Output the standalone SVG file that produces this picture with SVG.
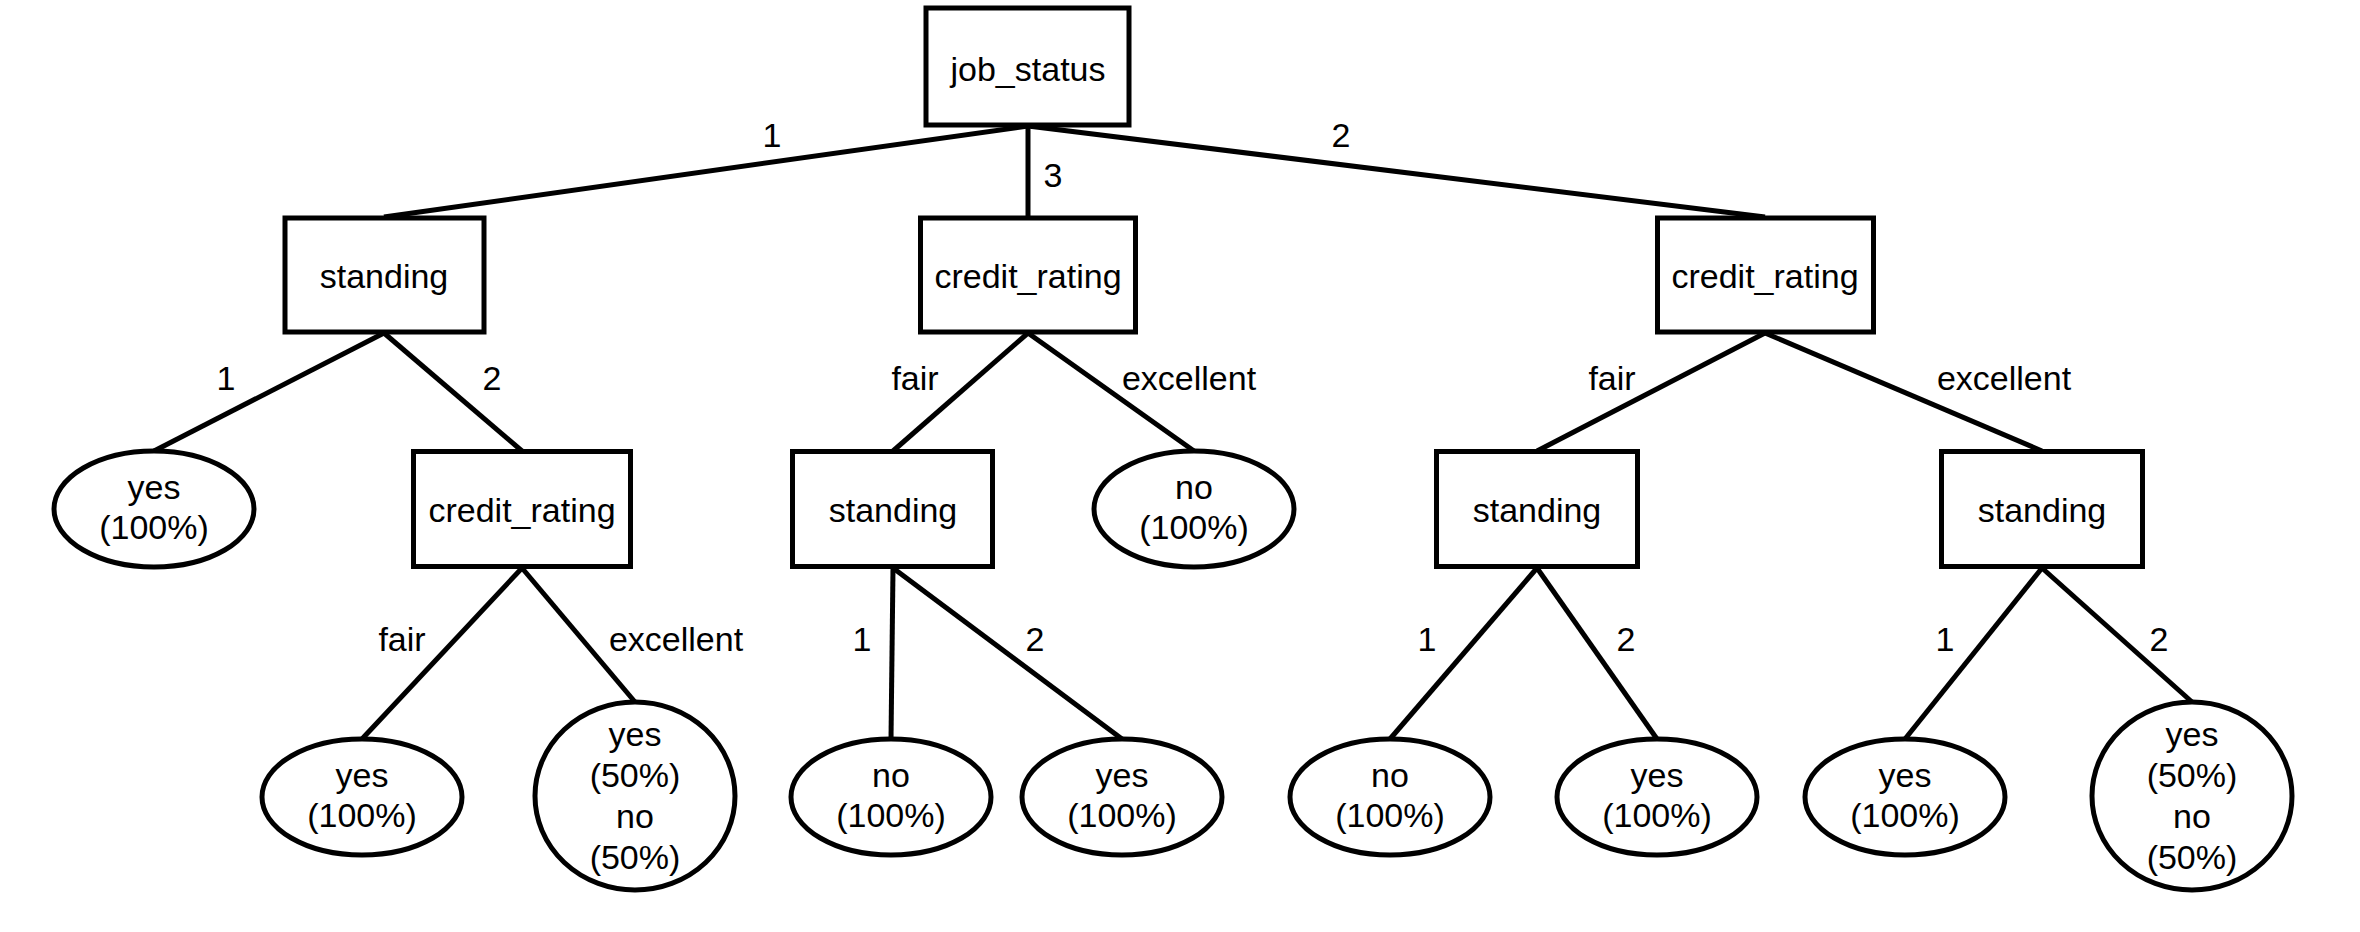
<svg xmlns="http://www.w3.org/2000/svg" width="2360" height="932" viewBox="0 0 2360 932">
  <style>
    .box { fill: #ffffff; stroke: #000000; stroke-width: 5; }
    .leaf { fill: #ffffff; stroke: #000000; stroke-width: 5; }
    .edge { stroke: #000000; stroke-width: 5; fill: none; }
    text { font-family: "Liberation Sans", Arial, sans-serif; font-size: 34px; fill: #000000; text-anchor: middle; }
  </style>
  <rect width="2360" height="932" fill="#ffffff"/>

  <!-- branches -->
  <g id="connectors">
    <line class="edge" x1="1028" y1="126" x2="384" y2="217"/>
    <line class="edge" x1="1028" y1="126" x2="1028" y2="217"/>
    <line class="edge" x1="1028" y1="126" x2="1765" y2="217"/>
    <line class="edge" x1="384" y1="333" x2="154" y2="451"/>
    <line class="edge" x1="384" y1="333" x2="522" y2="451"/>
    <line class="edge" x1="1028" y1="333" x2="893" y2="451"/>
    <line class="edge" x1="1028" y1="333" x2="1194" y2="451"/>
    <line class="edge" x1="1765" y1="333" x2="1537" y2="451"/>
    <line class="edge" x1="1765" y1="333" x2="2042" y2="451"/>
    <line class="edge" x1="522" y1="568" x2="362" y2="739"/>
    <line class="edge" x1="522" y1="568" x2="635" y2="702"/>
    <line class="edge" x1="893" y1="568" x2="891" y2="739"/>
    <line class="edge" x1="893" y1="568" x2="1122" y2="739"/>
    <line class="edge" x1="1537" y1="568" x2="1390" y2="739"/>
    <line class="edge" x1="1537" y1="568" x2="1657" y2="739"/>
    <line class="edge" x1="2042" y1="568" x2="1905" y2="739"/>
    <line class="edge" x1="2042" y1="568" x2="2192" y2="702"/>

    <text x="772" y="147">1</text>
    <text x="1053" y="187">3</text>
    <text x="1341" y="147">2</text>
    <text x="226" y="390">1</text>
    <text x="492" y="390">2</text>
    <text x="915" y="390">fair</text>
    <text x="1189" y="390">excellent</text>
    <text x="1612" y="390">fair</text>
    <text x="2004" y="390">excellent</text>
    <text x="402" y="651">fair</text>
    <text x="676" y="651">excellent</text>
    <text x="862" y="651">1</text>
    <text x="1035" y="651">2</text>
    <text x="1427" y="651">1</text>
    <text x="1626" y="651">2</text>
    <text x="1945" y="651">1</text>
    <text x="2159" y="651">2</text>
  </g>

  <!-- root -->
  <g id="job_status">
    <rect class="box" x="926" y="8" width="203" height="117"/>
    <text x="1028" y="81">job_status</text>
  </g>

  <!-- level 1 -->
  <g id="standing_1">
    <rect class="box" x="285" y="218" width="199" height="114"/>
    <text x="384" y="288">standing</text>
  </g>
  <g id="credit_rating_3">
    <rect class="box" x="920.5" y="218" width="215" height="114"/>
    <text x="1028" y="288">credit_rating</text>
  </g>
  <g id="credit_rating_2">
    <rect class="box" x="1657.5" y="218" width="216" height="114"/>
    <text x="1765" y="288">credit_rating</text>
  </g>

  <!-- level 2 -->
  <g id="leaf_yes_a">
    <ellipse class="leaf" cx="154" cy="509" rx="100" ry="58"/>
    <text x="154" y="499">yes</text>
    <text x="154" y="539">(100%)</text>
  </g>
  <g id="credit_rating_1_2">
    <rect class="box" x="413.5" y="451.5" width="217" height="115"/>
    <text x="522" y="522">credit_rating</text>
  </g>
  <g id="standing_3_fair">
    <rect class="box" x="792.5" y="451.5" width="200" height="115"/>
    <text x="893" y="522">standing</text>
  </g>
  <g id="leaf_no_a">
    <ellipse class="leaf" cx="1194" cy="509" rx="100" ry="58"/>
    <text x="1194" y="499">no</text>
    <text x="1194" y="539">(100%)</text>
  </g>
  <g id="standing_2_fair">
    <rect class="box" x="1436.5" y="451.5" width="201" height="115"/>
    <text x="1537" y="522">standing</text>
  </g>
  <g id="standing_2_excellent">
    <rect class="box" x="1941.5" y="451.5" width="201" height="115"/>
    <text x="2042" y="522">standing</text>
  </g>

  <!-- level 3 -->
  <g id="leaf_yes_b">
    <ellipse class="leaf" cx="362" cy="797" rx="100" ry="58"/>
    <text x="362" y="787">yes</text>
    <text x="362" y="827">(100%)</text>
  </g>
  <g id="leaf_mixed_a">
    <ellipse class="leaf" cx="635" cy="796" rx="100" ry="94"/>
    <text x="635" y="746">yes</text>
    <text x="635" y="787">(50%)</text>
    <text x="635" y="828">no</text>
    <text x="635" y="869">(50%)</text>
  </g>
  <g id="leaf_no_b">
    <ellipse class="leaf" cx="891" cy="797" rx="100" ry="58"/>
    <text x="891" y="787">no</text>
    <text x="891" y="827">(100%)</text>
  </g>
  <g id="leaf_yes_c">
    <ellipse class="leaf" cx="1122" cy="797" rx="100" ry="58"/>
    <text x="1122" y="787">yes</text>
    <text x="1122" y="827">(100%)</text>
  </g>
  <g id="leaf_no_c">
    <ellipse class="leaf" cx="1390" cy="797" rx="100" ry="58"/>
    <text x="1390" y="787">no</text>
    <text x="1390" y="827">(100%)</text>
  </g>
  <g id="leaf_yes_d">
    <ellipse class="leaf" cx="1657" cy="797" rx="100" ry="58"/>
    <text x="1657" y="787">yes</text>
    <text x="1657" y="827">(100%)</text>
  </g>
  <g id="leaf_yes_e">
    <ellipse class="leaf" cx="1905" cy="797" rx="100" ry="58"/>
    <text x="1905" y="787">yes</text>
    <text x="1905" y="827">(100%)</text>
  </g>
  <g id="leaf_mixed_b">
    <ellipse class="leaf" cx="2192" cy="796" rx="100" ry="94"/>
    <text x="2192" y="746">yes</text>
    <text x="2192" y="787">(50%)</text>
    <text x="2192" y="828">no</text>
    <text x="2192" y="869">(50%)</text>
  </g>
</svg>
